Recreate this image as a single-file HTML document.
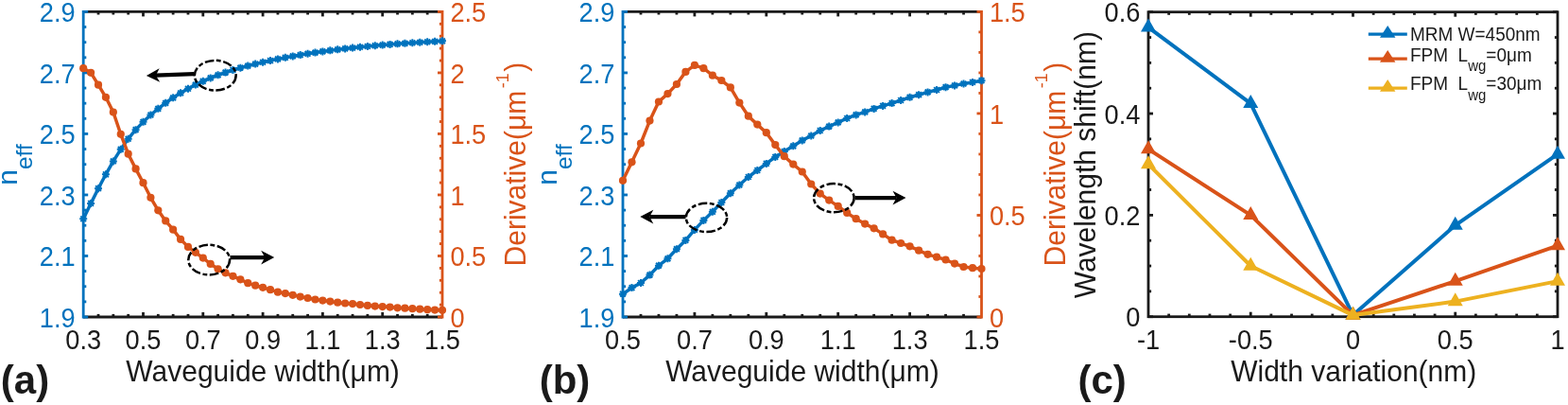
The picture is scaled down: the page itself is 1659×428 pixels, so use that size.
<!DOCTYPE html>
<html><head><meta charset="utf-8"><title>Figure</title>
<style>html,body{margin:0;padding:0;background:#fff;}svg{display:block;}</style>
</head><body>
<svg width="1659" height="428" viewBox="0 0 1659 428" font-family='"Liberation Sans", Arial, Helvetica, sans-serif'>
<rect width="1659" height="428" fill="#fff"/>
<line x1="88.2" y1="12.4" x2="468" y2="12.4" stroke="#1a1a1a" stroke-width="2.8" stroke-linecap="butt"/>
<line x1="88.2" y1="335" x2="468" y2="335" stroke="#1a1a1a" stroke-width="2.8" stroke-linecap="butt"/>
<line x1="104.03" y1="335" x2="104.03" y2="331.9" stroke="#1a1a1a" stroke-width="2.8" stroke-linecap="butt"/>
<line x1="119.85" y1="335" x2="119.85" y2="331.9" stroke="#1a1a1a" stroke-width="2.8" stroke-linecap="butt"/>
<line x1="135.68" y1="335" x2="135.68" y2="331.9" stroke="#1a1a1a" stroke-width="2.8" stroke-linecap="butt"/>
<line x1="151.5" y1="335" x2="151.5" y2="330" stroke="#1a1a1a" stroke-width="2.8" stroke-linecap="butt"/>
<line x1="167.32" y1="335" x2="167.32" y2="331.9" stroke="#1a1a1a" stroke-width="2.8" stroke-linecap="butt"/>
<line x1="183.15" y1="335" x2="183.15" y2="331.9" stroke="#1a1a1a" stroke-width="2.8" stroke-linecap="butt"/>
<line x1="198.98" y1="335" x2="198.98" y2="331.9" stroke="#1a1a1a" stroke-width="2.8" stroke-linecap="butt"/>
<line x1="214.8" y1="335" x2="214.8" y2="330" stroke="#1a1a1a" stroke-width="2.8" stroke-linecap="butt"/>
<line x1="230.62" y1="335" x2="230.62" y2="331.9" stroke="#1a1a1a" stroke-width="2.8" stroke-linecap="butt"/>
<line x1="246.45" y1="335" x2="246.45" y2="331.9" stroke="#1a1a1a" stroke-width="2.8" stroke-linecap="butt"/>
<line x1="262.28" y1="335" x2="262.28" y2="331.9" stroke="#1a1a1a" stroke-width="2.8" stroke-linecap="butt"/>
<line x1="278.1" y1="335" x2="278.1" y2="330" stroke="#1a1a1a" stroke-width="2.8" stroke-linecap="butt"/>
<line x1="293.93" y1="335" x2="293.93" y2="331.9" stroke="#1a1a1a" stroke-width="2.8" stroke-linecap="butt"/>
<line x1="309.75" y1="335" x2="309.75" y2="331.9" stroke="#1a1a1a" stroke-width="2.8" stroke-linecap="butt"/>
<line x1="325.58" y1="335" x2="325.58" y2="331.9" stroke="#1a1a1a" stroke-width="2.8" stroke-linecap="butt"/>
<line x1="341.4" y1="335" x2="341.4" y2="330" stroke="#1a1a1a" stroke-width="2.8" stroke-linecap="butt"/>
<line x1="357.23" y1="335" x2="357.23" y2="331.9" stroke="#1a1a1a" stroke-width="2.8" stroke-linecap="butt"/>
<line x1="373.05" y1="335" x2="373.05" y2="331.9" stroke="#1a1a1a" stroke-width="2.8" stroke-linecap="butt"/>
<line x1="388.88" y1="335" x2="388.88" y2="331.9" stroke="#1a1a1a" stroke-width="2.8" stroke-linecap="butt"/>
<line x1="404.7" y1="335" x2="404.7" y2="330" stroke="#1a1a1a" stroke-width="2.8" stroke-linecap="butt"/>
<line x1="420.53" y1="335" x2="420.53" y2="331.9" stroke="#1a1a1a" stroke-width="2.8" stroke-linecap="butt"/>
<line x1="436.35" y1="335" x2="436.35" y2="331.9" stroke="#1a1a1a" stroke-width="2.8" stroke-linecap="butt"/>
<line x1="452.18" y1="335" x2="452.18" y2="331.9" stroke="#1a1a1a" stroke-width="2.8" stroke-linecap="butt"/>
<line x1="104.03" y1="12.4" x2="104.03" y2="15.5" stroke="#1a1a1a" stroke-width="2.8" stroke-linecap="butt"/>
<line x1="119.85" y1="12.4" x2="119.85" y2="15.5" stroke="#1a1a1a" stroke-width="2.8" stroke-linecap="butt"/>
<line x1="135.68" y1="12.4" x2="135.68" y2="15.5" stroke="#1a1a1a" stroke-width="2.8" stroke-linecap="butt"/>
<line x1="151.5" y1="12.4" x2="151.5" y2="17.4" stroke="#1a1a1a" stroke-width="2.8" stroke-linecap="butt"/>
<line x1="167.32" y1="12.4" x2="167.32" y2="15.5" stroke="#1a1a1a" stroke-width="2.8" stroke-linecap="butt"/>
<line x1="183.15" y1="12.4" x2="183.15" y2="15.5" stroke="#1a1a1a" stroke-width="2.8" stroke-linecap="butt"/>
<line x1="198.98" y1="12.4" x2="198.98" y2="15.5" stroke="#1a1a1a" stroke-width="2.8" stroke-linecap="butt"/>
<line x1="214.8" y1="12.4" x2="214.8" y2="17.4" stroke="#1a1a1a" stroke-width="2.8" stroke-linecap="butt"/>
<line x1="230.62" y1="12.4" x2="230.62" y2="15.5" stroke="#1a1a1a" stroke-width="2.8" stroke-linecap="butt"/>
<line x1="246.45" y1="12.4" x2="246.45" y2="15.5" stroke="#1a1a1a" stroke-width="2.8" stroke-linecap="butt"/>
<line x1="262.28" y1="12.4" x2="262.28" y2="15.5" stroke="#1a1a1a" stroke-width="2.8" stroke-linecap="butt"/>
<line x1="278.1" y1="12.4" x2="278.1" y2="17.4" stroke="#1a1a1a" stroke-width="2.8" stroke-linecap="butt"/>
<line x1="293.93" y1="12.4" x2="293.93" y2="15.5" stroke="#1a1a1a" stroke-width="2.8" stroke-linecap="butt"/>
<line x1="309.75" y1="12.4" x2="309.75" y2="15.5" stroke="#1a1a1a" stroke-width="2.8" stroke-linecap="butt"/>
<line x1="325.58" y1="12.4" x2="325.58" y2="15.5" stroke="#1a1a1a" stroke-width="2.8" stroke-linecap="butt"/>
<line x1="341.4" y1="12.4" x2="341.4" y2="17.4" stroke="#1a1a1a" stroke-width="2.8" stroke-linecap="butt"/>
<line x1="357.23" y1="12.4" x2="357.23" y2="15.5" stroke="#1a1a1a" stroke-width="2.8" stroke-linecap="butt"/>
<line x1="373.05" y1="12.4" x2="373.05" y2="15.5" stroke="#1a1a1a" stroke-width="2.8" stroke-linecap="butt"/>
<line x1="388.88" y1="12.4" x2="388.88" y2="15.5" stroke="#1a1a1a" stroke-width="2.8" stroke-linecap="butt"/>
<line x1="404.7" y1="12.4" x2="404.7" y2="17.4" stroke="#1a1a1a" stroke-width="2.8" stroke-linecap="butt"/>
<line x1="420.53" y1="12.4" x2="420.53" y2="15.5" stroke="#1a1a1a" stroke-width="2.8" stroke-linecap="butt"/>
<line x1="436.35" y1="12.4" x2="436.35" y2="15.5" stroke="#1a1a1a" stroke-width="2.8" stroke-linecap="butt"/>
<line x1="452.18" y1="12.4" x2="452.18" y2="15.5" stroke="#1a1a1a" stroke-width="2.8" stroke-linecap="butt"/>
<line x1="88.2" y1="11" x2="88.2" y2="336.4" stroke="#0072BD" stroke-width="2.8" stroke-linecap="butt"/>
<line x1="468" y1="11" x2="468" y2="336.4" stroke="#D95319" stroke-width="2.8" stroke-linecap="butt"/>
<line x1="88.2" y1="335" x2="93.2" y2="335" stroke="#0072BD" stroke-width="2.8" stroke-linecap="butt"/>
<line x1="88.2" y1="318.87" x2="91.3" y2="318.87" stroke="#0072BD" stroke-width="2.8" stroke-linecap="butt"/>
<line x1="88.2" y1="302.74" x2="91.3" y2="302.74" stroke="#0072BD" stroke-width="2.8" stroke-linecap="butt"/>
<line x1="88.2" y1="286.61" x2="91.3" y2="286.61" stroke="#0072BD" stroke-width="2.8" stroke-linecap="butt"/>
<line x1="88.2" y1="270.48" x2="93.2" y2="270.48" stroke="#0072BD" stroke-width="2.8" stroke-linecap="butt"/>
<line x1="88.2" y1="254.35" x2="91.3" y2="254.35" stroke="#0072BD" stroke-width="2.8" stroke-linecap="butt"/>
<line x1="88.2" y1="238.22" x2="91.3" y2="238.22" stroke="#0072BD" stroke-width="2.8" stroke-linecap="butt"/>
<line x1="88.2" y1="222.09" x2="91.3" y2="222.09" stroke="#0072BD" stroke-width="2.8" stroke-linecap="butt"/>
<line x1="88.2" y1="205.96" x2="93.2" y2="205.96" stroke="#0072BD" stroke-width="2.8" stroke-linecap="butt"/>
<line x1="88.2" y1="189.83" x2="91.3" y2="189.83" stroke="#0072BD" stroke-width="2.8" stroke-linecap="butt"/>
<line x1="88.2" y1="173.7" x2="91.3" y2="173.7" stroke="#0072BD" stroke-width="2.8" stroke-linecap="butt"/>
<line x1="88.2" y1="157.57" x2="91.3" y2="157.57" stroke="#0072BD" stroke-width="2.8" stroke-linecap="butt"/>
<line x1="88.2" y1="141.44" x2="93.2" y2="141.44" stroke="#0072BD" stroke-width="2.8" stroke-linecap="butt"/>
<line x1="88.2" y1="125.31" x2="91.3" y2="125.31" stroke="#0072BD" stroke-width="2.8" stroke-linecap="butt"/>
<line x1="88.2" y1="109.18" x2="91.3" y2="109.18" stroke="#0072BD" stroke-width="2.8" stroke-linecap="butt"/>
<line x1="88.2" y1="93.05" x2="91.3" y2="93.05" stroke="#0072BD" stroke-width="2.8" stroke-linecap="butt"/>
<line x1="88.2" y1="76.92" x2="93.2" y2="76.92" stroke="#0072BD" stroke-width="2.8" stroke-linecap="butt"/>
<line x1="88.2" y1="60.79" x2="91.3" y2="60.79" stroke="#0072BD" stroke-width="2.8" stroke-linecap="butt"/>
<line x1="88.2" y1="44.66" x2="91.3" y2="44.66" stroke="#0072BD" stroke-width="2.8" stroke-linecap="butt"/>
<line x1="88.2" y1="28.53" x2="91.3" y2="28.53" stroke="#0072BD" stroke-width="2.8" stroke-linecap="butt"/>
<line x1="88.2" y1="12.4" x2="93.2" y2="12.4" stroke="#0072BD" stroke-width="2.8" stroke-linecap="butt"/>
<line x1="468" y1="335" x2="463" y2="335" stroke="#D95319" stroke-width="2.8" stroke-linecap="butt"/>
<line x1="468" y1="322.1" x2="464.9" y2="322.1" stroke="#D95319" stroke-width="2.8" stroke-linecap="butt"/>
<line x1="468" y1="309.19" x2="464.9" y2="309.19" stroke="#D95319" stroke-width="2.8" stroke-linecap="butt"/>
<line x1="468" y1="296.29" x2="464.9" y2="296.29" stroke="#D95319" stroke-width="2.8" stroke-linecap="butt"/>
<line x1="468" y1="283.38" x2="464.9" y2="283.38" stroke="#D95319" stroke-width="2.8" stroke-linecap="butt"/>
<line x1="468" y1="270.48" x2="463" y2="270.48" stroke="#D95319" stroke-width="2.8" stroke-linecap="butt"/>
<line x1="468" y1="257.58" x2="464.9" y2="257.58" stroke="#D95319" stroke-width="2.8" stroke-linecap="butt"/>
<line x1="468" y1="244.67" x2="464.9" y2="244.67" stroke="#D95319" stroke-width="2.8" stroke-linecap="butt"/>
<line x1="468" y1="231.77" x2="464.9" y2="231.77" stroke="#D95319" stroke-width="2.8" stroke-linecap="butt"/>
<line x1="468" y1="218.86" x2="464.9" y2="218.86" stroke="#D95319" stroke-width="2.8" stroke-linecap="butt"/>
<line x1="468" y1="205.96" x2="463" y2="205.96" stroke="#D95319" stroke-width="2.8" stroke-linecap="butt"/>
<line x1="468" y1="193.06" x2="464.9" y2="193.06" stroke="#D95319" stroke-width="2.8" stroke-linecap="butt"/>
<line x1="468" y1="180.15" x2="464.9" y2="180.15" stroke="#D95319" stroke-width="2.8" stroke-linecap="butt"/>
<line x1="468" y1="167.25" x2="464.9" y2="167.25" stroke="#D95319" stroke-width="2.8" stroke-linecap="butt"/>
<line x1="468" y1="154.34" x2="464.9" y2="154.34" stroke="#D95319" stroke-width="2.8" stroke-linecap="butt"/>
<line x1="468" y1="141.44" x2="463" y2="141.44" stroke="#D95319" stroke-width="2.8" stroke-linecap="butt"/>
<line x1="468" y1="128.54" x2="464.9" y2="128.54" stroke="#D95319" stroke-width="2.8" stroke-linecap="butt"/>
<line x1="468" y1="115.63" x2="464.9" y2="115.63" stroke="#D95319" stroke-width="2.8" stroke-linecap="butt"/>
<line x1="468" y1="102.73" x2="464.9" y2="102.73" stroke="#D95319" stroke-width="2.8" stroke-linecap="butt"/>
<line x1="468" y1="89.82" x2="464.9" y2="89.82" stroke="#D95319" stroke-width="2.8" stroke-linecap="butt"/>
<line x1="468" y1="76.92" x2="463" y2="76.92" stroke="#D95319" stroke-width="2.8" stroke-linecap="butt"/>
<line x1="468" y1="64.02" x2="464.9" y2="64.02" stroke="#D95319" stroke-width="2.8" stroke-linecap="butt"/>
<line x1="468" y1="51.11" x2="464.9" y2="51.11" stroke="#D95319" stroke-width="2.8" stroke-linecap="butt"/>
<line x1="468" y1="38.21" x2="464.9" y2="38.21" stroke="#D95319" stroke-width="2.8" stroke-linecap="butt"/>
<line x1="468" y1="25.3" x2="464.9" y2="25.3" stroke="#D95319" stroke-width="2.8" stroke-linecap="butt"/>
<line x1="468" y1="12.4" x2="463" y2="12.4" stroke="#D95319" stroke-width="2.8" stroke-linecap="butt"/>
<polyline points="88.2,231.24 96.11,214.92 104.03,199.2 111.94,184.29 119.85,170.44 127.76,157.84 135.68,146.73 143.59,137.15 151.5,128.84 159.41,121.48 167.32,114.83 175.24,108.8 183.15,103.3 191.06,98.3 198.98,93.74 206.89,89.59 214.8,85.83 222.71,82.42 230.62,79.34 238.54,76.54 246.45,74 254.36,71.68 262.28,69.56 270.19,67.59 278.1,65.76 286.01,64.04 293.93,62.41 301.84,60.87 309.75,59.42 317.66,58.05 325.58,56.77 333.49,55.56 341.4,54.43 349.31,53.37 357.23,52.37 365.14,51.44 373.05,50.56 380.96,49.75 388.88,48.98 396.79,48.26 404.7,47.59 412.61,46.96 420.53,46.36 428.44,45.8 436.35,45.27 444.26,44.76 452.18,44.28 460.09,43.82 468,43.37" fill="none" stroke="#0072BD" stroke-width="3.5" stroke-linejoin="round" stroke-linecap="round"/>
<path d="M84.2 231.24H92.2M88.2 227.24V235.24M85.32 228.36L91.08 234.12M85.32 234.12L91.08 228.36M92.11 214.92H100.11M96.11 210.92V218.92M93.23 212.04L98.99 217.8M93.23 217.8L98.99 212.04M100.03 199.2H108.03M104.03 195.2V203.2M101.15 196.32L106.91 202.08M101.15 202.08L106.91 196.32M107.94 184.29H115.94M111.94 180.29V188.29M109.06 181.41L114.82 187.17M109.06 187.17L114.82 181.41M115.85 170.44H123.85M119.85 166.44V174.44M116.97 167.56L122.73 173.32M116.97 173.32L122.73 167.56M123.76 157.84H131.76M127.76 153.84V161.84M124.88 154.96L130.64 160.72M124.88 160.72L130.64 154.96M131.68 146.73H139.68M135.68 142.73V150.73M132.8 143.85L138.56 149.61M132.8 149.61L138.56 143.85M139.59 137.15H147.59M143.59 133.15V141.15M140.71 134.27L146.47 140.03M140.71 140.03L146.47 134.27M147.5 128.84H155.5M151.5 124.84V132.84M148.62 125.96L154.38 131.72M148.62 131.72L154.38 125.96M155.41 121.48H163.41M159.41 117.48V125.48M156.53 118.6L162.29 124.36M156.53 124.36L162.29 118.6M163.32 114.83H171.32M167.32 110.83V118.83M164.44 111.95L170.2 117.71M164.44 117.71L170.2 111.95M171.24 108.8H179.24M175.24 104.8V112.8M172.36 105.92L178.12 111.68M172.36 111.68L178.12 105.92M179.15 103.3H187.15M183.15 99.3V107.3M180.27 100.42L186.03 106.18M180.27 106.18L186.03 100.42M187.06 98.3H195.06M191.06 94.3V102.3M188.18 95.42L193.94 101.18M188.18 101.18L193.94 95.42M194.98 93.74H202.98M198.98 89.74V97.74M196.1 90.86L201.86 96.62M196.1 96.62L201.86 90.86M202.89 89.59H210.89M206.89 85.59V93.59M204.01 86.71L209.77 92.47M204.01 92.47L209.77 86.71M210.8 85.83H218.8M214.8 81.83V89.83M211.92 82.95L217.68 88.71M211.92 88.71L217.68 82.95M218.71 82.42H226.71M222.71 78.42V86.42M219.83 79.54L225.59 85.3M219.83 85.3L225.59 79.54M226.62 79.34H234.62M230.62 75.34V83.34M227.75 76.46L233.5 82.22M227.75 82.22L233.5 76.46M234.54 76.54H242.54M238.54 72.54V80.54M235.66 73.66L241.42 79.42M235.66 79.42L241.42 73.66M242.45 74H250.45M246.45 70V78M243.57 71.12L249.33 76.88M243.57 76.88L249.33 71.12M250.36 71.68H258.36M254.36 67.68V75.68M251.48 68.8L257.24 74.56M251.48 74.56L257.24 68.8M258.28 69.56H266.28M262.28 65.56V73.56M259.4 66.68L265.16 72.44M259.4 72.44L265.16 66.68M266.19 67.59H274.19M270.19 63.59V71.59M267.31 64.71L273.07 70.47M267.31 70.47L273.07 64.71M274.1 65.76H282.1M278.1 61.76V69.76M275.22 62.88L280.98 68.64M275.22 68.64L280.98 62.88M282.01 64.04H290.01M286.01 60.04V68.04M283.13 61.16L288.89 66.92M283.13 66.92L288.89 61.16M289.93 62.41H297.93M293.93 58.41V66.41M291.05 59.53L296.81 65.29M291.05 65.29L296.81 59.53M297.84 60.87H305.84M301.84 56.87V64.87M298.96 57.99L304.72 63.75M298.96 63.75L304.72 57.99M305.75 59.42H313.75M309.75 55.42V63.42M306.87 56.54L312.63 62.3M306.87 62.3L312.63 56.54M313.66 58.05H321.66M317.66 54.05V62.05M314.78 55.17L320.54 60.93M314.78 60.93L320.54 55.17M321.58 56.77H329.58M325.58 52.77V60.77M322.7 53.89L328.46 59.65M322.7 59.65L328.46 53.89M329.49 55.56H337.49M333.49 51.56V59.56M330.61 52.68L336.37 58.44M330.61 58.44L336.37 52.68M337.4 54.43H345.4M341.4 50.43V58.43M338.52 51.55L344.28 57.31M338.52 57.31L344.28 51.55M345.31 53.37H353.31M349.31 49.37V57.37M346.43 50.49L352.19 56.25M346.43 56.25L352.19 50.49M353.23 52.37H361.23M357.23 48.37V56.37M354.35 49.49L360.11 55.25M354.35 55.25L360.11 49.49M361.14 51.44H369.14M365.14 47.44V55.44M362.26 48.56L368.02 54.32M362.26 54.32L368.02 48.56M369.05 50.56H377.05M373.05 46.56V54.56M370.17 47.68L375.93 53.44M370.17 53.44L375.93 47.68M376.96 49.75H384.96M380.96 45.75V53.75M378.08 46.87L383.84 52.63M378.08 52.63L383.84 46.87M384.88 48.98H392.88M388.88 44.98V52.98M386 46.1L391.75 51.86M386 51.86L391.75 46.1M392.79 48.26H400.79M396.79 44.26V52.26M393.91 45.38L399.67 51.14M393.91 51.14L399.67 45.38M400.7 47.59H408.7M404.7 43.59V51.59M401.82 44.71L407.58 50.47M401.82 50.47L407.58 44.71M408.61 46.96H416.61M412.61 42.96V50.96M409.73 44.08L415.49 49.84M409.73 49.84L415.49 44.08M416.53 46.36H424.53M420.53 42.36V50.36M417.65 43.48L423.41 49.24M417.65 49.24L423.41 43.48M424.44 45.8H432.44M428.44 41.8V49.8M425.56 42.92L431.32 48.68M425.56 48.68L431.32 42.92M432.35 45.27H440.35M436.35 41.27V49.27M433.47 42.39L439.23 48.15M433.47 48.15L439.23 42.39M440.26 44.76H448.26M444.26 40.76V48.76M441.38 41.88L447.14 47.64M441.38 47.64L447.14 41.88M448.18 44.28H456.18M452.18 40.28V48.28M449.3 41.4L455.06 47.16M449.3 47.16L455.06 41.4M456.09 43.82H464.09M460.09 39.82V47.82M457.21 40.94L462.97 46.7M457.21 46.7L462.97 40.94M464 43.37H472M468 39.37V47.37M465.12 40.49L470.88 46.25M465.12 46.25L470.88 40.49" stroke="#0072BD" stroke-width="2.0" fill="none"/>
<polyline points="88.2,72.2 96.11,76.8 104.03,89.7 111.94,102.8 119.85,118.5 127.76,141.8 135.68,162.7 143.59,178.4 151.5,193.2 159.41,208.8 167.32,222.3 175.24,233.4 183.15,242.7 191.06,252.8 198.98,260.9 206.89,266.8 214.8,272.6 222.71,278.9 230.62,284.3 238.54,288.3 246.45,291.8 254.36,295.3 262.28,299.2 270.19,301.7 278.1,303.8 286.01,306.2 293.93,308.7 301.84,310.1 309.75,311.8 317.66,313.6 325.58,315 333.49,316.5 341.4,317.6 349.31,318.6 357.23,319.7 365.14,320.5 373.05,321.1 380.96,322 388.88,322.9 396.79,323.6 404.7,324.1 412.61,324.6 420.53,325.3 428.44,325.7 436.35,326.2 444.26,326.7 452.18,327.2 460.09,327.6 468,327.8" fill="none" stroke="#D95319" stroke-width="3.5" stroke-linejoin="round" stroke-linecap="round"/>
<circle cx="88.2" cy="72.2" r="4.1" fill="#D95319"/>
<circle cx="96.11" cy="76.8" r="4.1" fill="#D95319"/>
<circle cx="104.03" cy="89.7" r="4.1" fill="#D95319"/>
<circle cx="111.94" cy="102.8" r="4.1" fill="#D95319"/>
<circle cx="119.85" cy="118.5" r="4.1" fill="#D95319"/>
<circle cx="127.76" cy="141.8" r="4.1" fill="#D95319"/>
<circle cx="135.68" cy="162.7" r="4.1" fill="#D95319"/>
<circle cx="143.59" cy="178.4" r="4.1" fill="#D95319"/>
<circle cx="151.5" cy="193.2" r="4.1" fill="#D95319"/>
<circle cx="159.41" cy="208.8" r="4.1" fill="#D95319"/>
<circle cx="167.32" cy="222.3" r="4.1" fill="#D95319"/>
<circle cx="175.24" cy="233.4" r="4.1" fill="#D95319"/>
<circle cx="183.15" cy="242.7" r="4.1" fill="#D95319"/>
<circle cx="191.06" cy="252.8" r="4.1" fill="#D95319"/>
<circle cx="198.98" cy="260.9" r="4.1" fill="#D95319"/>
<circle cx="206.89" cy="266.8" r="4.1" fill="#D95319"/>
<circle cx="214.8" cy="272.6" r="4.1" fill="#D95319"/>
<circle cx="222.71" cy="278.9" r="4.1" fill="#D95319"/>
<circle cx="230.62" cy="284.3" r="4.1" fill="#D95319"/>
<circle cx="238.54" cy="288.3" r="4.1" fill="#D95319"/>
<circle cx="246.45" cy="291.8" r="4.1" fill="#D95319"/>
<circle cx="254.36" cy="295.3" r="4.1" fill="#D95319"/>
<circle cx="262.28" cy="299.2" r="4.1" fill="#D95319"/>
<circle cx="270.19" cy="301.7" r="4.1" fill="#D95319"/>
<circle cx="278.1" cy="303.8" r="4.1" fill="#D95319"/>
<circle cx="286.01" cy="306.2" r="4.1" fill="#D95319"/>
<circle cx="293.93" cy="308.7" r="4.1" fill="#D95319"/>
<circle cx="301.84" cy="310.1" r="4.1" fill="#D95319"/>
<circle cx="309.75" cy="311.8" r="4.1" fill="#D95319"/>
<circle cx="317.66" cy="313.6" r="4.1" fill="#D95319"/>
<circle cx="325.58" cy="315" r="4.1" fill="#D95319"/>
<circle cx="333.49" cy="316.5" r="4.1" fill="#D95319"/>
<circle cx="341.4" cy="317.6" r="4.1" fill="#D95319"/>
<circle cx="349.31" cy="318.6" r="4.1" fill="#D95319"/>
<circle cx="357.23" cy="319.7" r="4.1" fill="#D95319"/>
<circle cx="365.14" cy="320.5" r="4.1" fill="#D95319"/>
<circle cx="373.05" cy="321.1" r="4.1" fill="#D95319"/>
<circle cx="380.96" cy="322" r="4.1" fill="#D95319"/>
<circle cx="388.88" cy="322.9" r="4.1" fill="#D95319"/>
<circle cx="396.79" cy="323.6" r="4.1" fill="#D95319"/>
<circle cx="404.7" cy="324.1" r="4.1" fill="#D95319"/>
<circle cx="412.61" cy="324.6" r="4.1" fill="#D95319"/>
<circle cx="420.53" cy="325.3" r="4.1" fill="#D95319"/>
<circle cx="428.44" cy="325.7" r="4.1" fill="#D95319"/>
<circle cx="436.35" cy="326.2" r="4.1" fill="#D95319"/>
<circle cx="444.26" cy="326.7" r="4.1" fill="#D95319"/>
<circle cx="452.18" cy="327.2" r="4.1" fill="#D95319"/>
<circle cx="460.09" cy="327.6" r="4.1" fill="#D95319"/>
<circle cx="468" cy="327.8" r="4.1" fill="#D95319"/>
<ellipse cx="227.75" cy="79.7" rx="21.9" ry="15.85" fill="none" stroke="#000" stroke-width="2.5" stroke-dasharray="9.5 2.6 4.8 2.6"/>
<ellipse cx="221.2" cy="274.6" rx="21.9" ry="15.8" fill="none" stroke="#000" stroke-width="2.5" stroke-dasharray="9.5 2.6 4.8 2.6"/>
<line x1="205.5" y1="78.2" x2="164.89" y2="79.72" stroke="#000" stroke-width="4.2" stroke-linecap="butt"/>
<path d="M154.9 80.1L168.62 72.28L164.89 79.72L169.16 86.87Z" fill="#000"/>
<line x1="243.5" y1="272.1" x2="280.2" y2="272.1" stroke="#000" stroke-width="4.2" stroke-linecap="butt"/>
<path d="M290.2 272.1L276.2 279.4L280.2 272.1L276.2 264.8Z" fill="#000"/>
<text transform="translate(88.2,369.2) scale(1,1.1)" fill="#1a1a1a" font-size="27.2" text-anchor="middle" >0.3</text>
<text transform="translate(151.5,369.2) scale(1,1.1)" fill="#1a1a1a" font-size="27.2" text-anchor="middle" >0.5</text>
<text transform="translate(214.8,369.2) scale(1,1.1)" fill="#1a1a1a" font-size="27.2" text-anchor="middle" >0.7</text>
<text transform="translate(278.1,369.2) scale(1,1.1)" fill="#1a1a1a" font-size="27.2" text-anchor="middle" >0.9</text>
<text transform="translate(341.4,369.2) scale(1,1.1)" fill="#1a1a1a" font-size="27.2" text-anchor="middle" >1.1</text>
<text transform="translate(404.7,369.2) scale(1,1.1)" fill="#1a1a1a" font-size="27.2" text-anchor="middle" >1.3</text>
<text transform="translate(468,369.2) scale(1,1.1)" fill="#1a1a1a" font-size="27.2" text-anchor="middle" >1.5</text>
<text transform="translate(79.6,345.6) scale(1,1.1)" fill="#0072BD" font-size="27.2" text-anchor="end" >1.9</text>
<text transform="translate(79.6,281.08) scale(1,1.1)" fill="#0072BD" font-size="27.2" text-anchor="end" >2.1</text>
<text transform="translate(79.6,216.56) scale(1,1.1)" fill="#0072BD" font-size="27.2" text-anchor="end" >2.3</text>
<text transform="translate(79.6,152.04) scale(1,1.1)" fill="#0072BD" font-size="27.2" text-anchor="end" >2.5</text>
<text transform="translate(79.6,87.52) scale(1,1.1)" fill="#0072BD" font-size="27.2" text-anchor="end" >2.7</text>
<text transform="translate(79.6,23) scale(1,1.1)" fill="#0072BD" font-size="27.2" text-anchor="end" >2.9</text>
<text transform="translate(476.4,345.6) scale(1,1.1)" fill="#D95319" font-size="27.2" text-anchor="start" >0</text>
<text transform="translate(476.4,281.08) scale(1,1.1)" fill="#D95319" font-size="27.2" text-anchor="start" >0.5</text>
<text transform="translate(476.4,216.56) scale(1,1.1)" fill="#D95319" font-size="27.2" text-anchor="start" >1</text>
<text transform="translate(476.4,152.04) scale(1,1.1)" fill="#D95319" font-size="27.2" text-anchor="start" >1.5</text>
<text transform="translate(476.4,87.52) scale(1,1.1)" fill="#D95319" font-size="27.2" text-anchor="start" >2</text>
<text transform="translate(476.4,23) scale(1,1.1)" fill="#D95319" font-size="27.2" text-anchor="start" >2.5</text>
<line x1="659" y1="12.4" x2="1038.5" y2="12.4" stroke="#1a1a1a" stroke-width="2.8" stroke-linecap="butt"/>
<line x1="659" y1="335" x2="1038.5" y2="335" stroke="#1a1a1a" stroke-width="2.8" stroke-linecap="butt"/>
<line x1="677.98" y1="335" x2="677.98" y2="331.9" stroke="#1a1a1a" stroke-width="2.8" stroke-linecap="butt"/>
<line x1="696.95" y1="335" x2="696.95" y2="331.9" stroke="#1a1a1a" stroke-width="2.8" stroke-linecap="butt"/>
<line x1="715.92" y1="335" x2="715.92" y2="331.9" stroke="#1a1a1a" stroke-width="2.8" stroke-linecap="butt"/>
<line x1="734.9" y1="335" x2="734.9" y2="330" stroke="#1a1a1a" stroke-width="2.8" stroke-linecap="butt"/>
<line x1="753.88" y1="335" x2="753.88" y2="331.9" stroke="#1a1a1a" stroke-width="2.8" stroke-linecap="butt"/>
<line x1="772.85" y1="335" x2="772.85" y2="331.9" stroke="#1a1a1a" stroke-width="2.8" stroke-linecap="butt"/>
<line x1="791.83" y1="335" x2="791.83" y2="331.9" stroke="#1a1a1a" stroke-width="2.8" stroke-linecap="butt"/>
<line x1="810.8" y1="335" x2="810.8" y2="330" stroke="#1a1a1a" stroke-width="2.8" stroke-linecap="butt"/>
<line x1="829.77" y1="335" x2="829.77" y2="331.9" stroke="#1a1a1a" stroke-width="2.8" stroke-linecap="butt"/>
<line x1="848.75" y1="335" x2="848.75" y2="331.9" stroke="#1a1a1a" stroke-width="2.8" stroke-linecap="butt"/>
<line x1="867.73" y1="335" x2="867.73" y2="331.9" stroke="#1a1a1a" stroke-width="2.8" stroke-linecap="butt"/>
<line x1="886.7" y1="335" x2="886.7" y2="330" stroke="#1a1a1a" stroke-width="2.8" stroke-linecap="butt"/>
<line x1="905.67" y1="335" x2="905.67" y2="331.9" stroke="#1a1a1a" stroke-width="2.8" stroke-linecap="butt"/>
<line x1="924.65" y1="335" x2="924.65" y2="331.9" stroke="#1a1a1a" stroke-width="2.8" stroke-linecap="butt"/>
<line x1="943.62" y1="335" x2="943.62" y2="331.9" stroke="#1a1a1a" stroke-width="2.8" stroke-linecap="butt"/>
<line x1="962.6" y1="335" x2="962.6" y2="330" stroke="#1a1a1a" stroke-width="2.8" stroke-linecap="butt"/>
<line x1="981.58" y1="335" x2="981.58" y2="331.9" stroke="#1a1a1a" stroke-width="2.8" stroke-linecap="butt"/>
<line x1="1000.55" y1="335" x2="1000.55" y2="331.9" stroke="#1a1a1a" stroke-width="2.8" stroke-linecap="butt"/>
<line x1="1019.53" y1="335" x2="1019.53" y2="331.9" stroke="#1a1a1a" stroke-width="2.8" stroke-linecap="butt"/>
<line x1="677.98" y1="12.4" x2="677.98" y2="15.5" stroke="#1a1a1a" stroke-width="2.8" stroke-linecap="butt"/>
<line x1="696.95" y1="12.4" x2="696.95" y2="15.5" stroke="#1a1a1a" stroke-width="2.8" stroke-linecap="butt"/>
<line x1="715.92" y1="12.4" x2="715.92" y2="15.5" stroke="#1a1a1a" stroke-width="2.8" stroke-linecap="butt"/>
<line x1="734.9" y1="12.4" x2="734.9" y2="17.4" stroke="#1a1a1a" stroke-width="2.8" stroke-linecap="butt"/>
<line x1="753.88" y1="12.4" x2="753.88" y2="15.5" stroke="#1a1a1a" stroke-width="2.8" stroke-linecap="butt"/>
<line x1="772.85" y1="12.4" x2="772.85" y2="15.5" stroke="#1a1a1a" stroke-width="2.8" stroke-linecap="butt"/>
<line x1="791.83" y1="12.4" x2="791.83" y2="15.5" stroke="#1a1a1a" stroke-width="2.8" stroke-linecap="butt"/>
<line x1="810.8" y1="12.4" x2="810.8" y2="17.4" stroke="#1a1a1a" stroke-width="2.8" stroke-linecap="butt"/>
<line x1="829.77" y1="12.4" x2="829.77" y2="15.5" stroke="#1a1a1a" stroke-width="2.8" stroke-linecap="butt"/>
<line x1="848.75" y1="12.4" x2="848.75" y2="15.5" stroke="#1a1a1a" stroke-width="2.8" stroke-linecap="butt"/>
<line x1="867.73" y1="12.4" x2="867.73" y2="15.5" stroke="#1a1a1a" stroke-width="2.8" stroke-linecap="butt"/>
<line x1="886.7" y1="12.4" x2="886.7" y2="17.4" stroke="#1a1a1a" stroke-width="2.8" stroke-linecap="butt"/>
<line x1="905.67" y1="12.4" x2="905.67" y2="15.5" stroke="#1a1a1a" stroke-width="2.8" stroke-linecap="butt"/>
<line x1="924.65" y1="12.4" x2="924.65" y2="15.5" stroke="#1a1a1a" stroke-width="2.8" stroke-linecap="butt"/>
<line x1="943.62" y1="12.4" x2="943.62" y2="15.5" stroke="#1a1a1a" stroke-width="2.8" stroke-linecap="butt"/>
<line x1="962.6" y1="12.4" x2="962.6" y2="17.4" stroke="#1a1a1a" stroke-width="2.8" stroke-linecap="butt"/>
<line x1="981.58" y1="12.4" x2="981.58" y2="15.5" stroke="#1a1a1a" stroke-width="2.8" stroke-linecap="butt"/>
<line x1="1000.55" y1="12.4" x2="1000.55" y2="15.5" stroke="#1a1a1a" stroke-width="2.8" stroke-linecap="butt"/>
<line x1="1019.53" y1="12.4" x2="1019.53" y2="15.5" stroke="#1a1a1a" stroke-width="2.8" stroke-linecap="butt"/>
<line x1="659" y1="11" x2="659" y2="336.4" stroke="#0072BD" stroke-width="2.8" stroke-linecap="butt"/>
<line x1="1038.5" y1="11" x2="1038.5" y2="336.4" stroke="#D95319" stroke-width="2.8" stroke-linecap="butt"/>
<line x1="659" y1="335" x2="664" y2="335" stroke="#0072BD" stroke-width="2.8" stroke-linecap="butt"/>
<line x1="659" y1="318.87" x2="662.1" y2="318.87" stroke="#0072BD" stroke-width="2.8" stroke-linecap="butt"/>
<line x1="659" y1="302.74" x2="662.1" y2="302.74" stroke="#0072BD" stroke-width="2.8" stroke-linecap="butt"/>
<line x1="659" y1="286.61" x2="662.1" y2="286.61" stroke="#0072BD" stroke-width="2.8" stroke-linecap="butt"/>
<line x1="659" y1="270.48" x2="664" y2="270.48" stroke="#0072BD" stroke-width="2.8" stroke-linecap="butt"/>
<line x1="659" y1="254.35" x2="662.1" y2="254.35" stroke="#0072BD" stroke-width="2.8" stroke-linecap="butt"/>
<line x1="659" y1="238.22" x2="662.1" y2="238.22" stroke="#0072BD" stroke-width="2.8" stroke-linecap="butt"/>
<line x1="659" y1="222.09" x2="662.1" y2="222.09" stroke="#0072BD" stroke-width="2.8" stroke-linecap="butt"/>
<line x1="659" y1="205.96" x2="664" y2="205.96" stroke="#0072BD" stroke-width="2.8" stroke-linecap="butt"/>
<line x1="659" y1="189.83" x2="662.1" y2="189.83" stroke="#0072BD" stroke-width="2.8" stroke-linecap="butt"/>
<line x1="659" y1="173.7" x2="662.1" y2="173.7" stroke="#0072BD" stroke-width="2.8" stroke-linecap="butt"/>
<line x1="659" y1="157.57" x2="662.1" y2="157.57" stroke="#0072BD" stroke-width="2.8" stroke-linecap="butt"/>
<line x1="659" y1="141.44" x2="664" y2="141.44" stroke="#0072BD" stroke-width="2.8" stroke-linecap="butt"/>
<line x1="659" y1="125.31" x2="662.1" y2="125.31" stroke="#0072BD" stroke-width="2.8" stroke-linecap="butt"/>
<line x1="659" y1="109.18" x2="662.1" y2="109.18" stroke="#0072BD" stroke-width="2.8" stroke-linecap="butt"/>
<line x1="659" y1="93.05" x2="662.1" y2="93.05" stroke="#0072BD" stroke-width="2.8" stroke-linecap="butt"/>
<line x1="659" y1="76.92" x2="664" y2="76.92" stroke="#0072BD" stroke-width="2.8" stroke-linecap="butt"/>
<line x1="659" y1="60.79" x2="662.1" y2="60.79" stroke="#0072BD" stroke-width="2.8" stroke-linecap="butt"/>
<line x1="659" y1="44.66" x2="662.1" y2="44.66" stroke="#0072BD" stroke-width="2.8" stroke-linecap="butt"/>
<line x1="659" y1="28.53" x2="662.1" y2="28.53" stroke="#0072BD" stroke-width="2.8" stroke-linecap="butt"/>
<line x1="659" y1="12.4" x2="664" y2="12.4" stroke="#0072BD" stroke-width="2.8" stroke-linecap="butt"/>
<line x1="1038.5" y1="335" x2="1033.5" y2="335" stroke="#D95319" stroke-width="2.8" stroke-linecap="butt"/>
<line x1="1038.5" y1="313.49" x2="1035.4" y2="313.49" stroke="#D95319" stroke-width="2.8" stroke-linecap="butt"/>
<line x1="1038.5" y1="291.99" x2="1035.4" y2="291.99" stroke="#D95319" stroke-width="2.8" stroke-linecap="butt"/>
<line x1="1038.5" y1="270.48" x2="1035.4" y2="270.48" stroke="#D95319" stroke-width="2.8" stroke-linecap="butt"/>
<line x1="1038.5" y1="248.97" x2="1035.4" y2="248.97" stroke="#D95319" stroke-width="2.8" stroke-linecap="butt"/>
<line x1="1038.5" y1="227.47" x2="1033.5" y2="227.47" stroke="#D95319" stroke-width="2.8" stroke-linecap="butt"/>
<line x1="1038.5" y1="205.96" x2="1035.4" y2="205.96" stroke="#D95319" stroke-width="2.8" stroke-linecap="butt"/>
<line x1="1038.5" y1="184.45" x2="1035.4" y2="184.45" stroke="#D95319" stroke-width="2.8" stroke-linecap="butt"/>
<line x1="1038.5" y1="162.95" x2="1035.4" y2="162.95" stroke="#D95319" stroke-width="2.8" stroke-linecap="butt"/>
<line x1="1038.5" y1="141.44" x2="1035.4" y2="141.44" stroke="#D95319" stroke-width="2.8" stroke-linecap="butt"/>
<line x1="1038.5" y1="119.93" x2="1033.5" y2="119.93" stroke="#D95319" stroke-width="2.8" stroke-linecap="butt"/>
<line x1="1038.5" y1="98.43" x2="1035.4" y2="98.43" stroke="#D95319" stroke-width="2.8" stroke-linecap="butt"/>
<line x1="1038.5" y1="76.92" x2="1035.4" y2="76.92" stroke="#D95319" stroke-width="2.8" stroke-linecap="butt"/>
<line x1="1038.5" y1="55.41" x2="1035.4" y2="55.41" stroke="#D95319" stroke-width="2.8" stroke-linecap="butt"/>
<line x1="1038.5" y1="33.91" x2="1035.4" y2="33.91" stroke="#D95319" stroke-width="2.8" stroke-linecap="butt"/>
<line x1="1038.5" y1="12.4" x2="1033.5" y2="12.4" stroke="#D95319" stroke-width="2.8" stroke-linecap="butt"/>
<polyline points="659,310.7 668.49,304.1 677.98,299 687.46,290.6 696.95,280.7 706.44,273.3 715.92,263.2 725.41,253.9 734.9,242.9 744.39,232.9 753.88,223.8 763.36,214 772.85,204.2 782.34,195.5 791.83,187 801.31,180 810.8,172.9 820.29,165.9 829.77,160.1 839.26,154.3 848.75,148.4 858.24,143.5 867.73,138 877.21,133.6 886.7,129.4 896.19,125 905.67,121.4 915.16,118.4 924.65,114.9 934.14,111.9 943.62,109.1 953.11,106 962.6,102.8 972.09,100.2 981.58,97.4 991.06,95 1000.55,92.2 1010.04,90.4 1019.53,88.5 1029.01,86.9 1038.5,85.2" fill="none" stroke="#0072BD" stroke-width="3.5" stroke-linejoin="round" stroke-linecap="round"/>
<path d="M655 310.7H663M659 306.7V314.7M656.12 307.82L661.88 313.58M656.12 313.58L661.88 307.82M664.49 304.1H672.49M668.49 300.1V308.1M665.61 301.22L671.37 306.98M665.61 306.98L671.37 301.22M673.98 299H681.98M677.98 295V303M675.1 296.12L680.86 301.88M675.1 301.88L680.86 296.12M683.46 290.6H691.46M687.46 286.6V294.6M684.58 287.72L690.34 293.48M684.58 293.48L690.34 287.72M692.95 280.7H700.95M696.95 276.7V284.7M694.07 277.82L699.83 283.58M694.07 283.58L699.83 277.82M702.44 273.3H710.44M706.44 269.3V277.3M703.56 270.42L709.32 276.18M703.56 276.18L709.32 270.42M711.92 263.2H719.92M715.92 259.2V267.2M713.04 260.32L718.8 266.08M713.04 266.08L718.8 260.32M721.41 253.9H729.41M725.41 249.9V257.9M722.53 251.02L728.29 256.78M722.53 256.78L728.29 251.02M730.9 242.9H738.9M734.9 238.9V246.9M732.02 240.02L737.78 245.78M732.02 245.78L737.78 240.02M740.39 232.9H748.39M744.39 228.9V236.9M741.51 230.02L747.27 235.78M741.51 235.78L747.27 230.02M749.88 223.8H757.88M753.88 219.8V227.8M751 220.92L756.75 226.68M751 226.68L756.75 220.92M759.36 214H767.36M763.36 210V218M760.48 211.12L766.24 216.88M760.48 216.88L766.24 211.12M768.85 204.2H776.85M772.85 200.2V208.2M769.97 201.32L775.73 207.08M769.97 207.08L775.73 201.32M778.34 195.5H786.34M782.34 191.5V199.5M779.46 192.62L785.22 198.38M779.46 198.38L785.22 192.62M787.83 187H795.83M791.83 183V191M788.95 184.12L794.71 189.88M788.95 189.88L794.71 184.12M797.31 180H805.31M801.31 176V184M798.43 177.12L804.19 182.88M798.43 182.88L804.19 177.12M806.8 172.9H814.8M810.8 168.9V176.9M807.92 170.02L813.68 175.78M807.92 175.78L813.68 170.02M816.29 165.9H824.29M820.29 161.9V169.9M817.41 163.02L823.17 168.78M817.41 168.78L823.17 163.02M825.77 160.1H833.77M829.77 156.1V164.1M826.89 157.22L832.65 162.98M826.89 162.98L832.65 157.22M835.26 154.3H843.26M839.26 150.3V158.3M836.38 151.42L842.14 157.18M836.38 157.18L842.14 151.42M844.75 148.4H852.75M848.75 144.4V152.4M845.87 145.52L851.63 151.28M845.87 151.28L851.63 145.52M854.24 143.5H862.24M858.24 139.5V147.5M855.36 140.62L861.12 146.38M855.36 146.38L861.12 140.62M863.73 138H871.73M867.73 134V142M864.85 135.12L870.61 140.88M864.85 140.88L870.61 135.12M873.21 133.6H881.21M877.21 129.6V137.6M874.33 130.72L880.09 136.48M874.33 136.48L880.09 130.72M882.7 129.4H890.7M886.7 125.4V133.4M883.82 126.52L889.58 132.28M883.82 132.28L889.58 126.52M892.19 125H900.19M896.19 121V129M893.31 122.12L899.07 127.88M893.31 127.88L899.07 122.12M901.67 121.4H909.67M905.67 117.4V125.4M902.79 118.52L908.55 124.28M902.79 124.28L908.55 118.52M911.16 118.4H919.16M915.16 114.4V122.4M912.28 115.52L918.04 121.28M912.28 121.28L918.04 115.52M920.65 114.9H928.65M924.65 110.9V118.9M921.77 112.02L927.53 117.78M921.77 117.78L927.53 112.02M930.14 111.9H938.14M934.14 107.9V115.9M931.26 109.02L937.02 114.78M931.26 114.78L937.02 109.02M939.62 109.1H947.62M943.62 105.1V113.1M940.75 106.22L946.5 111.98M940.75 111.98L946.5 106.22M949.11 106H957.11M953.11 102V110M950.23 103.12L955.99 108.88M950.23 108.88L955.99 103.12M958.6 102.8H966.6M962.6 98.8V106.8M959.72 99.92L965.48 105.68M959.72 105.68L965.48 99.92M968.09 100.2H976.09M972.09 96.2V104.2M969.21 97.32L974.97 103.08M969.21 103.08L974.97 97.32M977.58 97.4H985.58M981.58 93.4V101.4M978.7 94.52L984.46 100.28M978.7 100.28L984.46 94.52M987.06 95H995.06M991.06 91V99M988.18 92.12L993.94 97.88M988.18 97.88L993.94 92.12M996.55 92.2H1004.55M1000.55 88.2V96.2M997.67 89.32L1003.43 95.08M997.67 95.08L1003.43 89.32M1006.04 90.4H1014.04M1010.04 86.4V94.4M1007.16 87.52L1012.92 93.28M1007.16 93.28L1012.92 87.52M1015.53 88.5H1023.53M1019.53 84.5V92.5M1016.65 85.62L1022.41 91.38M1016.65 91.38L1022.41 85.62M1025.01 86.9H1033.01M1029.01 82.9V90.9M1026.13 84.02L1031.89 89.78M1026.13 89.78L1031.89 84.02M1034.5 85.2H1042.5M1038.5 81.2V89.2M1035.62 82.32L1041.38 88.08M1035.62 88.08L1041.38 82.32" stroke="#0072BD" stroke-width="2.0" fill="none"/>
<polyline points="659,190.8 668.49,171.3 677.98,151.5 687.46,127.6 696.95,107.5 706.44,99.1 715.92,89 725.41,75.9 734.9,68.9 744.39,72.2 753.88,79.7 763.36,85 772.85,92.4 782.34,108.6 791.83,122.7 801.31,131.6 810.8,140.2 820.29,153.1 829.77,165.2 839.26,173.6 848.75,181.5 858.24,194.5 867.73,204.6 877.21,211.6 886.7,217.9 896.19,224.9 905.67,231.2 915.16,236.6 924.65,241.3 934.14,247.4 943.62,253.7 953.11,257 962.6,260.3 972.09,264.7 981.58,268.8 991.06,271.7 1000.55,274.5 1010.04,278.6 1019.53,282 1029.01,283.2 1038.5,284" fill="none" stroke="#D95319" stroke-width="3.5" stroke-linejoin="round" stroke-linecap="round"/>
<circle cx="659" cy="190.8" r="4.1" fill="#D95319"/>
<circle cx="668.49" cy="171.3" r="4.1" fill="#D95319"/>
<circle cx="677.98" cy="151.5" r="4.1" fill="#D95319"/>
<circle cx="687.46" cy="127.6" r="4.1" fill="#D95319"/>
<circle cx="696.95" cy="107.5" r="4.1" fill="#D95319"/>
<circle cx="706.44" cy="99.1" r="4.1" fill="#D95319"/>
<circle cx="715.92" cy="89" r="4.1" fill="#D95319"/>
<circle cx="725.41" cy="75.9" r="4.1" fill="#D95319"/>
<circle cx="734.9" cy="68.9" r="4.1" fill="#D95319"/>
<circle cx="744.39" cy="72.2" r="4.1" fill="#D95319"/>
<circle cx="753.88" cy="79.7" r="4.1" fill="#D95319"/>
<circle cx="763.36" cy="85" r="4.1" fill="#D95319"/>
<circle cx="772.85" cy="92.4" r="4.1" fill="#D95319"/>
<circle cx="782.34" cy="108.6" r="4.1" fill="#D95319"/>
<circle cx="791.83" cy="122.7" r="4.1" fill="#D95319"/>
<circle cx="801.31" cy="131.6" r="4.1" fill="#D95319"/>
<circle cx="810.8" cy="140.2" r="4.1" fill="#D95319"/>
<circle cx="820.29" cy="153.1" r="4.1" fill="#D95319"/>
<circle cx="829.77" cy="165.2" r="4.1" fill="#D95319"/>
<circle cx="839.26" cy="173.6" r="4.1" fill="#D95319"/>
<circle cx="848.75" cy="181.5" r="4.1" fill="#D95319"/>
<circle cx="858.24" cy="194.5" r="4.1" fill="#D95319"/>
<circle cx="867.73" cy="204.6" r="4.1" fill="#D95319"/>
<circle cx="877.21" cy="211.6" r="4.1" fill="#D95319"/>
<circle cx="886.7" cy="217.9" r="4.1" fill="#D95319"/>
<circle cx="896.19" cy="224.9" r="4.1" fill="#D95319"/>
<circle cx="905.67" cy="231.2" r="4.1" fill="#D95319"/>
<circle cx="915.16" cy="236.6" r="4.1" fill="#D95319"/>
<circle cx="924.65" cy="241.3" r="4.1" fill="#D95319"/>
<circle cx="934.14" cy="247.4" r="4.1" fill="#D95319"/>
<circle cx="943.62" cy="253.7" r="4.1" fill="#D95319"/>
<circle cx="953.11" cy="257" r="4.1" fill="#D95319"/>
<circle cx="962.6" cy="260.3" r="4.1" fill="#D95319"/>
<circle cx="972.09" cy="264.7" r="4.1" fill="#D95319"/>
<circle cx="981.58" cy="268.8" r="4.1" fill="#D95319"/>
<circle cx="991.06" cy="271.7" r="4.1" fill="#D95319"/>
<circle cx="1000.55" cy="274.5" r="4.1" fill="#D95319"/>
<circle cx="1010.04" cy="278.6" r="4.1" fill="#D95319"/>
<circle cx="1019.53" cy="282" r="4.1" fill="#D95319"/>
<circle cx="1029.01" cy="283.2" r="4.1" fill="#D95319"/>
<circle cx="1038.5" cy="284" r="4.1" fill="#D95319"/>
<ellipse cx="747.5" cy="229.95" rx="21.65" ry="15.1" fill="none" stroke="#000" stroke-width="2.5" stroke-dasharray="9.5 2.6 4.8 2.6"/>
<ellipse cx="882.35" cy="209.2" rx="21.3" ry="15.1" fill="none" stroke="#000" stroke-width="2.5" stroke-dasharray="9.5 2.6 4.8 2.6"/>
<line x1="725.5" y1="229.1" x2="687.3" y2="229.1" stroke="#000" stroke-width="4.2" stroke-linecap="butt"/>
<path d="M677.3 229.1L691.3 221.8L687.3 229.1L691.3 236.4Z" fill="#000"/>
<line x1="905" y1="209.1" x2="948.5" y2="209.1" stroke="#000" stroke-width="4.2" stroke-linecap="butt"/>
<path d="M958.5 209.1L944.5 216.4L948.5 209.1L944.5 201.8Z" fill="#000"/>
<text transform="translate(659,369.2) scale(1,1.1)" fill="#1a1a1a" font-size="27.2" text-anchor="middle" >0.5</text>
<text transform="translate(734.9,369.2) scale(1,1.1)" fill="#1a1a1a" font-size="27.2" text-anchor="middle" >0.7</text>
<text transform="translate(810.8,369.2) scale(1,1.1)" fill="#1a1a1a" font-size="27.2" text-anchor="middle" >0.9</text>
<text transform="translate(886.7,369.2) scale(1,1.1)" fill="#1a1a1a" font-size="27.2" text-anchor="middle" >1.1</text>
<text transform="translate(962.6,369.2) scale(1,1.1)" fill="#1a1a1a" font-size="27.2" text-anchor="middle" >1.3</text>
<text transform="translate(1038.5,369.2) scale(1,1.1)" fill="#1a1a1a" font-size="27.2" text-anchor="middle" >1.5</text>
<text transform="translate(650.4,345.6) scale(1,1.1)" fill="#0072BD" font-size="27.2" text-anchor="end" >1.9</text>
<text transform="translate(650.4,281.08) scale(1,1.1)" fill="#0072BD" font-size="27.2" text-anchor="end" >2.1</text>
<text transform="translate(650.4,216.56) scale(1,1.1)" fill="#0072BD" font-size="27.2" text-anchor="end" >2.3</text>
<text transform="translate(650.4,152.04) scale(1,1.1)" fill="#0072BD" font-size="27.2" text-anchor="end" >2.5</text>
<text transform="translate(650.4,87.52) scale(1,1.1)" fill="#0072BD" font-size="27.2" text-anchor="end" >2.7</text>
<text transform="translate(650.4,23) scale(1,1.1)" fill="#0072BD" font-size="27.2" text-anchor="end" >2.9</text>
<text transform="translate(1046.9,345.6) scale(1,1.1)" fill="#D95319" font-size="27.2" text-anchor="start" >0</text>
<text transform="translate(1046.9,238.07) scale(1,1.1)" fill="#D95319" font-size="27.2" text-anchor="start" >0.5</text>
<text transform="translate(1046.9,130.53) scale(1,1.1)" fill="#D95319" font-size="27.2" text-anchor="start" >1</text>
<text transform="translate(1046.9,23) scale(1,1.1)" fill="#D95319" font-size="27.2" text-anchor="start" >1.5</text>
<text transform="translate(18.2,195.7) rotate(-90)" fill="#0072BD" font-size="30">n<tspan font-size="24.5" dy="15.6">eff</tspan></text>
<text transform="translate(555.9,173.6) rotate(-90) scale(1,1.05)" fill="#D95319" font-size="30" text-anchor="middle">Derivative(μm<tspan font-size="18" dx="2.5" dy="-17.4">-1</tspan><tspan dx="1.5" dy="17.4">)</tspan></text>
<text transform="translate(278.1,403.2) scale(1,1.05)" fill="#1a1a1a" font-size="30" text-anchor="middle" >Waveguide width(μm)</text>
<text transform="translate(589,195.7) rotate(-90)" fill="#0072BD" font-size="30">n<tspan font-size="24.5" dy="15.6">eff</tspan></text>
<text transform="translate(1126.7,173.6) rotate(-90) scale(1,1.05)" fill="#D95319" font-size="30" text-anchor="middle">Derivative(μm<tspan font-size="18" dx="2.5" dy="-17.4">-1</tspan><tspan dx="1.5" dy="17.4">)</tspan></text>
<text transform="translate(848.9,403.2) scale(1,1.05)" fill="#1a1a1a" font-size="30" text-anchor="middle" >Waveguide width(μm)</text>
<text x="0.8" y="416.2" fill="#1a1a1a" font-size="42" text-anchor="start" font-weight="bold">(a)</text>
<text x="570.7" y="416.2" fill="#1a1a1a" font-size="42" text-anchor="start" font-weight="bold">(b)</text>
<text x="1140.5" y="416.2" fill="#1a1a1a" font-size="42" text-anchor="start" font-weight="bold">(c)</text>
<line x1="1236.65" y1="334.7" x2="1236.65" y2="331.6" stroke="#1a1a1a" stroke-width="2.8" stroke-linecap="butt"/>
<line x1="1258.3" y1="334.7" x2="1258.3" y2="331.6" stroke="#1a1a1a" stroke-width="2.8" stroke-linecap="butt"/>
<line x1="1279.95" y1="334.7" x2="1279.95" y2="331.6" stroke="#1a1a1a" stroke-width="2.8" stroke-linecap="butt"/>
<line x1="1301.6" y1="334.7" x2="1301.6" y2="331.6" stroke="#1a1a1a" stroke-width="2.8" stroke-linecap="butt"/>
<line x1="1323.25" y1="334.7" x2="1323.25" y2="329.7" stroke="#1a1a1a" stroke-width="2.8" stroke-linecap="butt"/>
<line x1="1344.9" y1="334.7" x2="1344.9" y2="331.6" stroke="#1a1a1a" stroke-width="2.8" stroke-linecap="butt"/>
<line x1="1366.55" y1="334.7" x2="1366.55" y2="331.6" stroke="#1a1a1a" stroke-width="2.8" stroke-linecap="butt"/>
<line x1="1388.2" y1="334.7" x2="1388.2" y2="331.6" stroke="#1a1a1a" stroke-width="2.8" stroke-linecap="butt"/>
<line x1="1409.85" y1="334.7" x2="1409.85" y2="331.6" stroke="#1a1a1a" stroke-width="2.8" stroke-linecap="butt"/>
<line x1="1431.5" y1="334.7" x2="1431.5" y2="329.7" stroke="#1a1a1a" stroke-width="2.8" stroke-linecap="butt"/>
<line x1="1453.15" y1="334.7" x2="1453.15" y2="331.6" stroke="#1a1a1a" stroke-width="2.8" stroke-linecap="butt"/>
<line x1="1474.8" y1="334.7" x2="1474.8" y2="331.6" stroke="#1a1a1a" stroke-width="2.8" stroke-linecap="butt"/>
<line x1="1496.45" y1="334.7" x2="1496.45" y2="331.6" stroke="#1a1a1a" stroke-width="2.8" stroke-linecap="butt"/>
<line x1="1518.1" y1="334.7" x2="1518.1" y2="331.6" stroke="#1a1a1a" stroke-width="2.8" stroke-linecap="butt"/>
<line x1="1539.75" y1="334.7" x2="1539.75" y2="329.7" stroke="#1a1a1a" stroke-width="2.8" stroke-linecap="butt"/>
<line x1="1561.4" y1="334.7" x2="1561.4" y2="331.6" stroke="#1a1a1a" stroke-width="2.8" stroke-linecap="butt"/>
<line x1="1583.05" y1="334.7" x2="1583.05" y2="331.6" stroke="#1a1a1a" stroke-width="2.8" stroke-linecap="butt"/>
<line x1="1604.7" y1="334.7" x2="1604.7" y2="331.6" stroke="#1a1a1a" stroke-width="2.8" stroke-linecap="butt"/>
<line x1="1626.35" y1="334.7" x2="1626.35" y2="331.6" stroke="#1a1a1a" stroke-width="2.8" stroke-linecap="butt"/>
<line x1="1236.65" y1="12.7" x2="1236.65" y2="15.8" stroke="#1a1a1a" stroke-width="2.8" stroke-linecap="butt"/>
<line x1="1258.3" y1="12.7" x2="1258.3" y2="15.8" stroke="#1a1a1a" stroke-width="2.8" stroke-linecap="butt"/>
<line x1="1279.95" y1="12.7" x2="1279.95" y2="15.8" stroke="#1a1a1a" stroke-width="2.8" stroke-linecap="butt"/>
<line x1="1301.6" y1="12.7" x2="1301.6" y2="15.8" stroke="#1a1a1a" stroke-width="2.8" stroke-linecap="butt"/>
<line x1="1323.25" y1="12.7" x2="1323.25" y2="17.7" stroke="#1a1a1a" stroke-width="2.8" stroke-linecap="butt"/>
<line x1="1344.9" y1="12.7" x2="1344.9" y2="15.8" stroke="#1a1a1a" stroke-width="2.8" stroke-linecap="butt"/>
<line x1="1366.55" y1="12.7" x2="1366.55" y2="15.8" stroke="#1a1a1a" stroke-width="2.8" stroke-linecap="butt"/>
<line x1="1388.2" y1="12.7" x2="1388.2" y2="15.8" stroke="#1a1a1a" stroke-width="2.8" stroke-linecap="butt"/>
<line x1="1409.85" y1="12.7" x2="1409.85" y2="15.8" stroke="#1a1a1a" stroke-width="2.8" stroke-linecap="butt"/>
<line x1="1431.5" y1="12.7" x2="1431.5" y2="17.7" stroke="#1a1a1a" stroke-width="2.8" stroke-linecap="butt"/>
<line x1="1453.15" y1="12.7" x2="1453.15" y2="15.8" stroke="#1a1a1a" stroke-width="2.8" stroke-linecap="butt"/>
<line x1="1474.8" y1="12.7" x2="1474.8" y2="15.8" stroke="#1a1a1a" stroke-width="2.8" stroke-linecap="butt"/>
<line x1="1496.45" y1="12.7" x2="1496.45" y2="15.8" stroke="#1a1a1a" stroke-width="2.8" stroke-linecap="butt"/>
<line x1="1518.1" y1="12.7" x2="1518.1" y2="15.8" stroke="#1a1a1a" stroke-width="2.8" stroke-linecap="butt"/>
<line x1="1539.75" y1="12.7" x2="1539.75" y2="17.7" stroke="#1a1a1a" stroke-width="2.8" stroke-linecap="butt"/>
<line x1="1561.4" y1="12.7" x2="1561.4" y2="15.8" stroke="#1a1a1a" stroke-width="2.8" stroke-linecap="butt"/>
<line x1="1583.05" y1="12.7" x2="1583.05" y2="15.8" stroke="#1a1a1a" stroke-width="2.8" stroke-linecap="butt"/>
<line x1="1604.7" y1="12.7" x2="1604.7" y2="15.8" stroke="#1a1a1a" stroke-width="2.8" stroke-linecap="butt"/>
<line x1="1626.35" y1="12.7" x2="1626.35" y2="15.8" stroke="#1a1a1a" stroke-width="2.8" stroke-linecap="butt"/>
<line x1="1215" y1="334.7" x2="1220" y2="334.7" stroke="#1a1a1a" stroke-width="2.8" stroke-linecap="butt"/>
<line x1="1215" y1="307.87" x2="1218.1" y2="307.87" stroke="#1a1a1a" stroke-width="2.8" stroke-linecap="butt"/>
<line x1="1215" y1="281.03" x2="1218.1" y2="281.03" stroke="#1a1a1a" stroke-width="2.8" stroke-linecap="butt"/>
<line x1="1215" y1="254.2" x2="1218.1" y2="254.2" stroke="#1a1a1a" stroke-width="2.8" stroke-linecap="butt"/>
<line x1="1215" y1="227.37" x2="1220" y2="227.37" stroke="#1a1a1a" stroke-width="2.8" stroke-linecap="butt"/>
<line x1="1215" y1="200.53" x2="1218.1" y2="200.53" stroke="#1a1a1a" stroke-width="2.8" stroke-linecap="butt"/>
<line x1="1215" y1="173.7" x2="1218.1" y2="173.7" stroke="#1a1a1a" stroke-width="2.8" stroke-linecap="butt"/>
<line x1="1215" y1="146.87" x2="1218.1" y2="146.87" stroke="#1a1a1a" stroke-width="2.8" stroke-linecap="butt"/>
<line x1="1215" y1="120.03" x2="1220" y2="120.03" stroke="#1a1a1a" stroke-width="2.8" stroke-linecap="butt"/>
<line x1="1215" y1="93.2" x2="1218.1" y2="93.2" stroke="#1a1a1a" stroke-width="2.8" stroke-linecap="butt"/>
<line x1="1215" y1="66.37" x2="1218.1" y2="66.37" stroke="#1a1a1a" stroke-width="2.8" stroke-linecap="butt"/>
<line x1="1215" y1="39.53" x2="1218.1" y2="39.53" stroke="#1a1a1a" stroke-width="2.8" stroke-linecap="butt"/>
<line x1="1215" y1="12.7" x2="1220" y2="12.7" stroke="#1a1a1a" stroke-width="2.8" stroke-linecap="butt"/>
<line x1="1648" y1="334.7" x2="1643" y2="334.7" stroke="#1a1a1a" stroke-width="2.8" stroke-linecap="butt"/>
<line x1="1648" y1="307.87" x2="1644.9" y2="307.87" stroke="#1a1a1a" stroke-width="2.8" stroke-linecap="butt"/>
<line x1="1648" y1="281.03" x2="1644.9" y2="281.03" stroke="#1a1a1a" stroke-width="2.8" stroke-linecap="butt"/>
<line x1="1648" y1="254.2" x2="1644.9" y2="254.2" stroke="#1a1a1a" stroke-width="2.8" stroke-linecap="butt"/>
<line x1="1648" y1="227.37" x2="1643" y2="227.37" stroke="#1a1a1a" stroke-width="2.8" stroke-linecap="butt"/>
<line x1="1648" y1="200.53" x2="1644.9" y2="200.53" stroke="#1a1a1a" stroke-width="2.8" stroke-linecap="butt"/>
<line x1="1648" y1="173.7" x2="1644.9" y2="173.7" stroke="#1a1a1a" stroke-width="2.8" stroke-linecap="butt"/>
<line x1="1648" y1="146.87" x2="1644.9" y2="146.87" stroke="#1a1a1a" stroke-width="2.8" stroke-linecap="butt"/>
<line x1="1648" y1="120.03" x2="1643" y2="120.03" stroke="#1a1a1a" stroke-width="2.8" stroke-linecap="butt"/>
<line x1="1648" y1="93.2" x2="1644.9" y2="93.2" stroke="#1a1a1a" stroke-width="2.8" stroke-linecap="butt"/>
<line x1="1648" y1="66.37" x2="1644.9" y2="66.37" stroke="#1a1a1a" stroke-width="2.8" stroke-linecap="butt"/>
<line x1="1648" y1="39.53" x2="1644.9" y2="39.53" stroke="#1a1a1a" stroke-width="2.8" stroke-linecap="butt"/>
<line x1="1648" y1="12.7" x2="1643" y2="12.7" stroke="#1a1a1a" stroke-width="2.8" stroke-linecap="butt"/>
<rect x="1215.0" y="12.7" width="433" height="322" fill="none" stroke="#1a1a1a" stroke-width="2.8"/>
<polyline points="1215,28.8 1323.25,109.3 1431.5,333.09 1539.75,238.1 1648,162.97" fill="none" stroke="#0072BD" stroke-width="4.0" stroke-linejoin="round" stroke-linecap="round"/>
<path d="M1215 19.47L1223 33.47L1207 33.47ZM1323.25 99.97L1331.25 113.97L1315.25 113.97ZM1431.5 323.76L1439.5 337.76L1423.5 337.76ZM1539.75 228.77L1547.75 242.77L1531.75 242.77ZM1648 153.63L1656 167.63L1640 167.63Z" fill="#0072BD"/>
<polyline points="1215,157.6 1323.25,227.37 1431.5,333.09 1539.75,297.13 1648,259.57" fill="none" stroke="#D95319" stroke-width="4.0" stroke-linejoin="round" stroke-linecap="round"/>
<path d="M1215 148.27L1223 162.27L1207 162.27ZM1323.25 218.03L1331.25 232.03L1315.25 232.03ZM1431.5 323.76L1439.5 337.76L1423.5 337.76ZM1539.75 287.8L1547.75 301.8L1531.75 301.8ZM1648 250.23L1656 264.23L1640 264.23Z" fill="#D95319"/>
<polyline points="1215,173.7 1323.25,281.03 1431.5,333.09 1539.75,318.6 1648,297.13" fill="none" stroke="#EDB120" stroke-width="4.0" stroke-linejoin="round" stroke-linecap="round"/>
<path d="M1215 164.37L1223 178.37L1207 178.37ZM1323.25 271.7L1331.25 285.7L1315.25 285.7ZM1431.5 323.76L1439.5 337.76L1423.5 337.76ZM1539.75 309.27L1547.75 323.27L1531.75 323.27ZM1648 287.8L1656 301.8L1640 301.8Z" fill="#EDB120"/>
<text transform="translate(1215,369.2) scale(1,1.1)" fill="#1a1a1a" font-size="27.2" text-anchor="middle" >-1</text>
<text transform="translate(1323.25,369.2) scale(1,1.1)" fill="#1a1a1a" font-size="27.2" text-anchor="middle" >-0.5</text>
<text transform="translate(1431.5,369.2) scale(1,1.1)" fill="#1a1a1a" font-size="27.2" text-anchor="middle" >0</text>
<text transform="translate(1539.75,369.2) scale(1,1.1)" fill="#1a1a1a" font-size="27.2" text-anchor="middle" >0.5</text>
<text transform="translate(1648,369.2) scale(1,1.1)" fill="#1a1a1a" font-size="27.2" text-anchor="middle" >1</text>
<text transform="translate(1206.4,345.3) scale(1,1.1)" fill="#1a1a1a" font-size="27.2" text-anchor="end" >0</text>
<text transform="translate(1206.4,237.97) scale(1,1.1)" fill="#1a1a1a" font-size="27.2" text-anchor="end" >0.2</text>
<text transform="translate(1206.4,130.63) scale(1,1.1)" fill="#1a1a1a" font-size="27.2" text-anchor="end" >0.4</text>
<text transform="translate(1206.4,23.3) scale(1,1.1)" fill="#1a1a1a" font-size="27.2" text-anchor="end" >0.6</text>
<text transform="translate(1159.3,174.2) rotate(-90) scale(1,1.05)" fill="#1a1a1a" font-size="30" text-anchor="middle">Wavelength shift(nm)</text>
<text transform="translate(1432.2,403.2) scale(1,1.05)" fill="#1a1a1a" font-size="30" text-anchor="middle" >Width variation(nm)</text>
<line x1="1447.8" y1="36.1" x2="1488.8" y2="36.1" stroke="#0072BD" stroke-width="3.2" stroke-linecap="butt"/>
<path d="M1468.2 27.07L1476.45 39.87L1459.95 39.87Z" fill="#0072BD"/>
<line x1="1447.8" y1="62.1" x2="1488.8" y2="62.1" stroke="#D95319" stroke-width="3.2" stroke-linecap="butt"/>
<path d="M1468.2 53.07L1476.45 65.87L1459.95 65.87Z" fill="#D95319"/>
<line x1="1447.8" y1="93.1" x2="1488.8" y2="93.1" stroke="#EDB120" stroke-width="3.2" stroke-linecap="butt"/>
<path d="M1468.2 84.07L1476.45 96.87L1459.95 96.87Z" fill="#EDB120"/>
<text transform="translate(1492,42.9) scale(1,1.07)" fill="#1a1a1a" font-size="19.0" text-anchor="start" >MRM W=450nm</text>
<text transform="translate(1492,65) scale(1,1.07)" fill="#1a1a1a" font-size="19.0" xml:space="preserve">FPM  L<tspan font-size="15" dy="9.6">wg</tspan><tspan dy="-9.6">=0μm</tspan></text>
<text transform="translate(1492,95.4) scale(1,1.07)" fill="#1a1a1a" font-size="19.0" xml:space="preserve">FPM  L<tspan font-size="15" dy="9.6">wg</tspan><tspan dy="-9.6">=30μm</tspan></text>
</svg>
</body></html>
